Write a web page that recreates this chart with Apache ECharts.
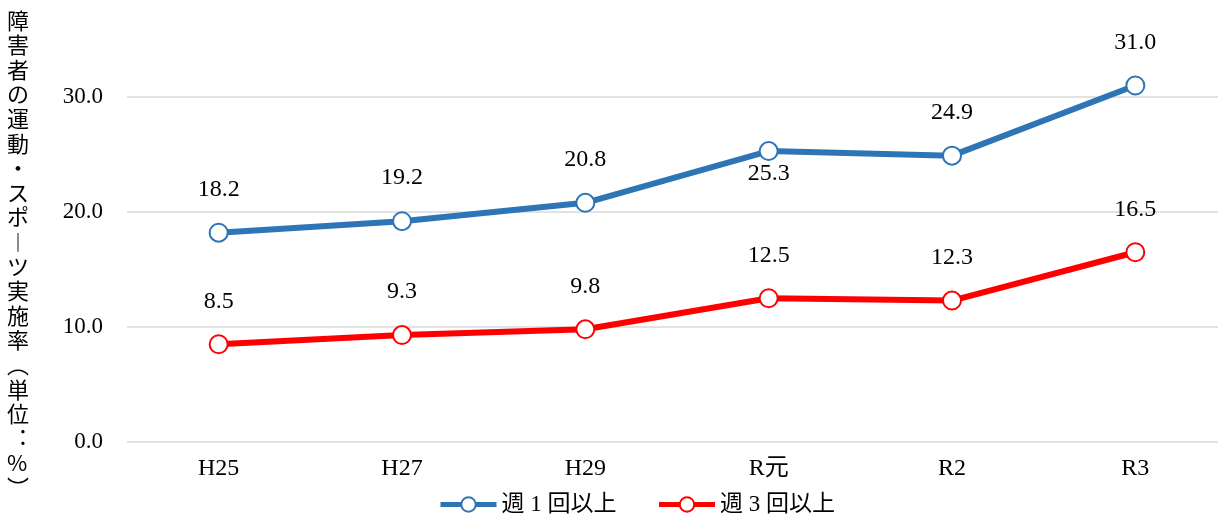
<!DOCTYPE html>
<html>
<head>
<meta charset="utf-8">
<script src="https://cdn.jsdelivr.net/npm/echarts@6/dist/echarts.min.js"></script>
<style>
  html, body { margin: 0; padding: 0; background: #fff; }
  #main { width: 1218px; height: 516px; }
</style>
</head>
<body>
<div id="main"></div>
<script>
const categories = ["H25", "H27", "H29", "R元", "R2", "R3"];
const weekOnce = [18.2, 19.2, 20.8, 25.3, 24.9, 31.0];
const weekThrice = [8.5, 9.3, 9.8, 12.5, 12.3, 16.5];
const yTitle = ["障", "害", "者", "の", "運", "動", "・", "ス", "ポ", "︱", "ツ", "実", "施", "率", "︵", "単", "位", "︓", "%", "︶"];

const serif = '"Liberation Serif", "DejaVu Serif", "Noto Sans CJK JP", serif';

const chartDom = document.getElementById("main");
const myChart = echarts.init(chartDom);

const makeSeries = (name, data, color) => ({
  name: name,
  type: "line",
  data: data,
  symbol: "emptyCircle",
  symbolSize: 18,
  lineStyle: { width: 6, color: color },
  itemStyle: { color: color, borderColor: color, borderWidth: 3 },
  label: {
    show: true,
    position: "top",
    distance: 21,
    fontSize: 24,
    color: "#000",
    fontFamily: serif,
    formatter: (p) => p.value.toFixed(1),
  },
});

const blue = makeSeries("週 1 回以上", weekOnce, "#2e75b6");
// R元 label sits under the point
blue.data = weekOnce.map((v, i) =>
  i === 3 ? { value: v, label: { position: "bottom", distance: 1 } } : v
);

const option = {
  animation: false,
  textStyle: { fontFamily: serif },
  grid: { left: 127, right: -9, top: -18, bottom: 74, outerBoundsMode: "none" },
  graphic: [
    {
      type: "text",
      left: 7,
      top: 8,
      style: {
        text: yTitle.join("\n"),
        fontSize: 22,
        lineHeight: 24.6,
        fill: "#000",
        fontFamily: '"Noto Sans CJK JP", sans-serif',
        align: "center",
      },
    },
  ],
  xAxis: {
    type: "category",
    data: categories,
    axisLine: { show: false },
    axisTick: { show: false },
    axisLabel: { fontSize: 24, color: "#000", margin: 15, fontFamily: serif },
  },
  yAxis: {
    type: "value",
    min: 0,
    max: 40,
    interval: 10,
    axisLabel: {
      fontSize: 23,
      color: "#000",
      margin: 24,
      fontFamily: serif,
      formatter: (v) => (v >= 40 ? "" : v.toFixed(1)),
    },
    splitLine: { lineStyle: { color: "#d9d9d9", width: 1.5 } },
  },
  legend: {
    left: 433,
    top: 488,
    itemWidth: 56,
    itemHeight: 18,
    itemGap: 40,
    lineStyle: { width: 5 },
    itemStyle: { borderWidth: 3 },
    textStyle: { fontSize: 23, color: "#000", fontFamily: serif },
    data: ["週 1 回以上", "週 3 回以上"],
  },
  series: [blue, makeSeries("週 3 回以上", weekThrice, "#ff0000")],
};

myChart.setOption(option);
</script>
</body>
</html>
